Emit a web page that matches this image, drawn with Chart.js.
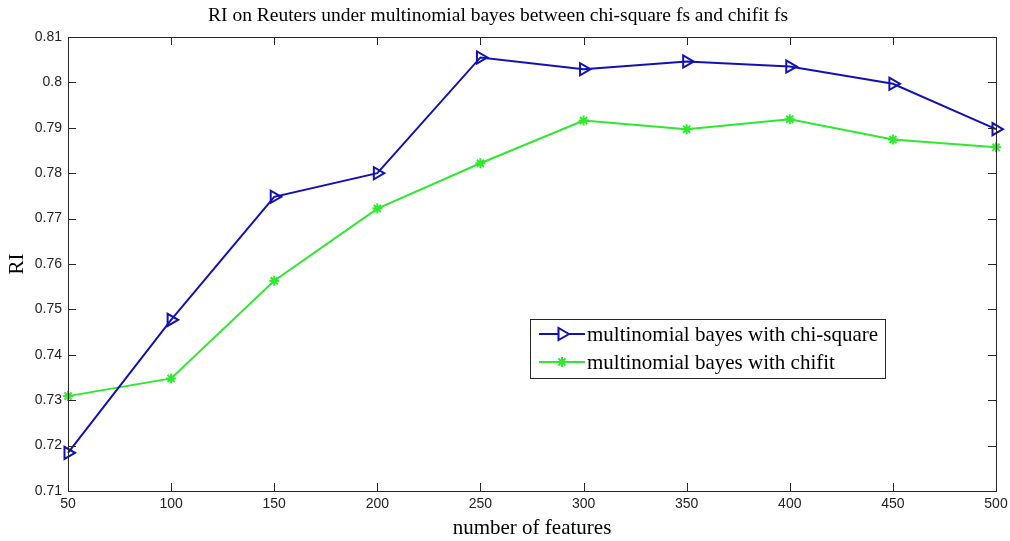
<!DOCTYPE html>
<html>
<head>
<meta charset="utf-8">
<script src="https://cdn.jsdelivr.net/npm/chart.js@4/dist/chart.umd.min.js"></script>
<style>
  html, body { margin: 0; padding: 0; background: #fff; }
  #wrap { width: 1010px; height: 541px; position: relative; }
</style>
</head>
<body>
<div id="wrap"><canvas id="c" width="1010" height="541"></canvas></div>
<script>
// Number of selected features
const features = [50, 100, 150, 200, 250, 300, 350, 400, 450, 500];
// RI with chi-square feature selection
const chiSquareRI = [0.7184, 0.7477, 0.7748, 0.7800, 0.8055, 0.8029, 0.8046, 0.8035, 0.7997, 0.7897];
// RI with chifit feature selection
const chifitRI = [0.7309, 0.7348, 0.7563, 0.7722, 0.7822, 0.7916, 0.7897, 0.7919, 0.7874, 0.7857];
// Y axis tick values
const yTicks = [0.71, 0.72, 0.73, 0.74, 0.75, 0.76, 0.77, 0.78, 0.79, 0.80, 0.81];

const seriesNames = ['multinomial bayes with chi-square', 'multinomial bayes with chifit'];
const BLUE = '#1212b4';
const GREEN = '#2fe82f';
const AXIS = '#262626';
const SERIF = '"Liberation Serif", "Times New Roman", serif';
const SANS = '"Liberation Sans", Arial, sans-serif';

function drawMarker(ctx, kind, x, y, color) {
  ctx.save();
  ctx.strokeStyle = color;
  ctx.lineWidth = 2;
  ctx.beginPath();
  if (kind === 'tri') {
    const r = 7;
    ctx.moveTo(x + r, y);
    ctx.lineTo(x - r * 0.5, y - r * 0.866);
    ctx.lineTo(x - r * 0.5, y + r * 0.866);
    ctx.closePath();
    ctx.fillStyle = '#fff';
    ctx.fill();
  } else {
    const r = 5;
    for (let a = 0; a < 4; a++) {
      const t = a * Math.PI / 4;
      ctx.moveTo(x - r * Math.cos(t), y - r * Math.sin(t));
      ctx.lineTo(x + r * Math.cos(t), y + r * Math.sin(t));
    }
  }
  ctx.stroke();
  ctx.restore();
}

// Box frame with inward ticks on all four sides
const framePlugin = {
  id: 'frame',
  afterDatasetsDraw(chart) {
    const { ctx, chartArea: a, scales } = chart;
    ctx.save();
    ctx.strokeStyle = AXIS;
    ctx.lineWidth = 1;
    const L = 8;
    ctx.beginPath();
    features.forEach((f, i) => {
      const px = Math.round(scales.x.getPixelForTick(i)) + 0.5;
      ctx.moveTo(px, a.bottom); ctx.lineTo(px, a.bottom - L);
      ctx.moveTo(px, a.top); ctx.lineTo(px, a.top + L);
    });
    yTicks.forEach(v => {
      const py = Math.round(scales.y.getPixelForValue(v)) + 0.5;
      ctx.moveTo(a.left, py); ctx.lineTo(a.left + L, py);
      ctx.moveTo(a.right, py); ctx.lineTo(a.right - L, py);
    });
    ctx.stroke();
    ctx.strokeRect(Math.round(a.left) + 0.5, Math.round(a.top) + 0.5,
                   Math.round(a.right - a.left), Math.round(a.bottom - a.top));
    ctx.restore();
  }
};

// Legend box placed inside the plot
const boxLegend = {
  id: 'boxLegend',
  afterDraw(chart) {
    const { ctx } = chart;
    const x0 = 530, y0 = 319, w = 355, h = 59;
    ctx.save();
    ctx.fillStyle = '#fff';
    ctx.fillRect(x0, y0, w, h);
    ctx.strokeStyle = AXIS;
    ctx.lineWidth = 1;
    ctx.strokeRect(x0 + 0.5, y0 + 0.5, w, h);
    const rows = [
      { name: seriesNames[0], color: BLUE, kind: 'tri', y: y0 + 15 },
      { name: seriesNames[1], color: GREEN, kind: 'star', y: y0 + 43 }
    ];
    rows.forEach(r => {
      ctx.strokeStyle = r.color;
      ctx.lineWidth = 2;
      ctx.beginPath();
      ctx.moveTo(x0 + 9, r.y);
      ctx.lineTo(x0 + 55, r.y);
      ctx.stroke();
      drawMarker(ctx, r.kind, x0 + 32, r.y, r.color);
      ctx.fillStyle = '#000';
      ctx.font = '21px ' + SERIF;
      ctx.textBaseline = 'middle';
      ctx.textAlign = 'left';
      ctx.fillText(r.name, x0 + 57, r.y + 1);
    });
    ctx.restore();
  }
};

new Chart(document.getElementById('c'), {
  type: 'line',
  data: {
    labels: features,
    datasets: [
      {
        label: seriesNames[0],
        data: chiSquareRI,
        borderColor: BLUE,
        borderWidth: 2,
        pointStyle: 'triangle',
        rotation: 90,
        pointRadius: 7,
        pointBorderWidth: 2,
        pointBackgroundColor: 'rgba(255,255,255,0)',
        pointBorderColor: BLUE,
        tension: 0,
        clip: false
      },
      {
        label: seriesNames[1],
        data: chifitRI,
        borderColor: GREEN,
        borderWidth: 2,
        pointStyle: 'star',
        pointRadius: 5,
        pointBorderWidth: 2,
        pointBackgroundColor: GREEN,
        pointBorderColor: GREEN,
        tension: 0,
        clip: false
      }
    ]
  },
  options: {
    responsive: false,
    animation: false,
    devicePixelRatio: 1,
    layout: { padding: { left: 0, right: 14, top: 0, bottom: 0 } },
    plugins: {
      legend: { display: false },
      tooltip: { enabled: false },
      title: {
        display: true,
        text: 'RI on Reuters under multinomial bayes between chi-square fs and chifit fs',
        color: '#000',
        font: { family: SERIF, size: 19.5, weight: 'normal' },
        padding: { top: 4, bottom: 9.6 }
      }
    },
    scales: {
      x: {
        type: 'category',
        offset: false,
        grid: { display: false, drawTicks: false },
        border: { display: false },
        ticks: {
          color: '#222',
          font: { family: SANS, size: 14 },
          padding: 5,
          maxRotation: 0,
          autoSkip: false
        },
        title: {
          display: true,
          text: 'number of features',
          color: '#000',
          font: { family: SERIF, size: 21 },
          padding: { top: 0, bottom: 0 }
        },
        afterFit(s) { s.height = 50; s.paddingLeft = 0; s.paddingRight = 0; }
      },
      y: {
        min: 0.71,
        max: 0.81,
        grid: { display: false, drawTicks: false },
        border: { display: false },
        afterBuildTicks(s) { s.ticks = yTicks.map(v => ({ value: v })); },
        ticks: {
          color: '#222',
          font: { family: SANS, size: 14 },
          padding: 6,
          callback: v => String(Number(v.toFixed(2)))
        },
        title: {
          display: true,
          text: 'RI',
          color: '#000',
          font: { family: SERIF, size: 21 },
          padding: { top: 5, bottom: 4 }
        },
        afterFit(s) { s.width = 68; }
      }
    }
  },
  plugins: [framePlugin, boxLegend]
});
</script>
</body>
</html>
